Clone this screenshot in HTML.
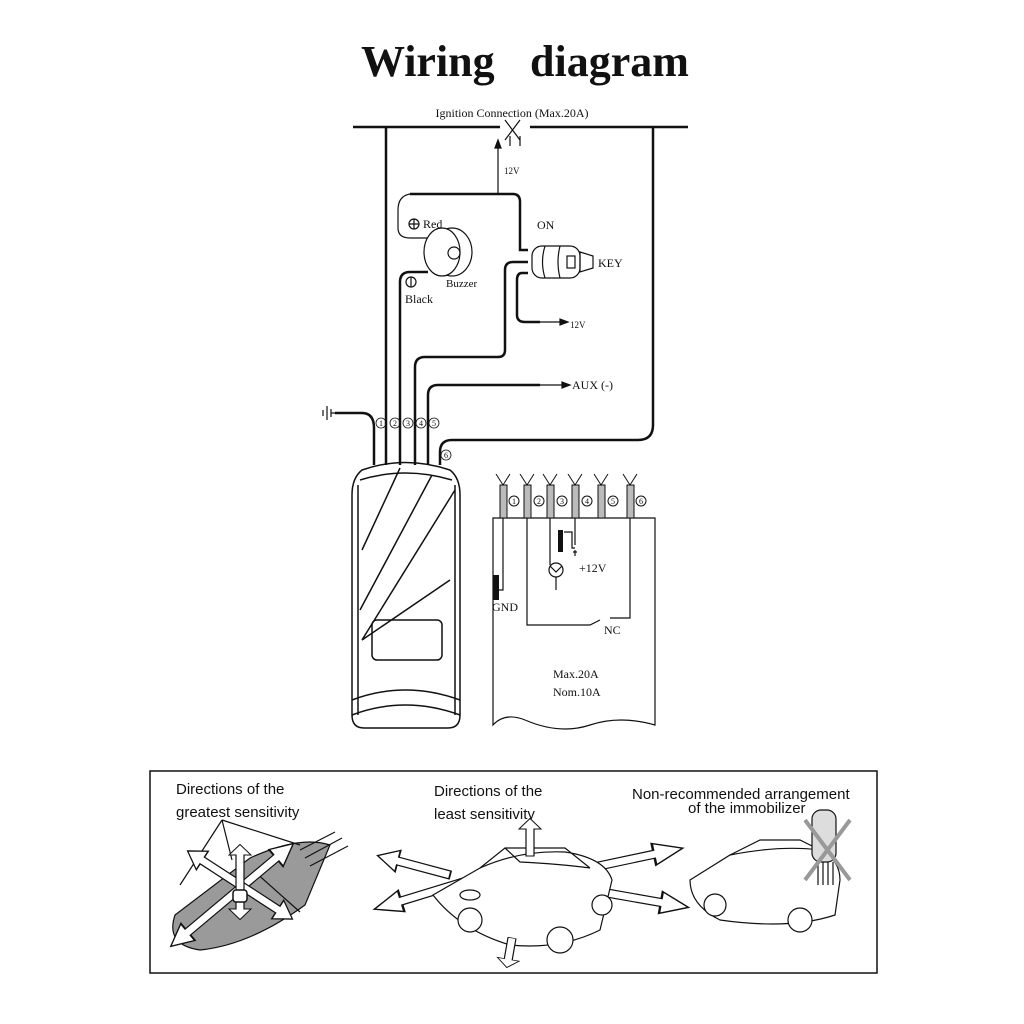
<!DOCTYPE html>
<html><head><meta charset="utf-8"><style>
html,body{margin:0;padding:0;background:#fff}
svg{display:block}
text{font-family:"Liberation Serif",serif;fill:#111}
.s{font-family:"Liberation Sans",sans-serif}
</style></head><body>
<svg width="1024" height="1024" viewBox="0 0 1024 1024" xmlns="http://www.w3.org/2000/svg">
<defs>
<polygon id="da" points="-50,0 -36,-11 -36,-4 36,-4 36,-11 50,0 36,11 36,4 -36,4 -36,11" fill="#fff" stroke="#111" stroke-width="1.2"/>
<polygon id="sa" points="0,-4 36,-4 36,-11 50,0 36,11 36,4 0,4" fill="#fff" stroke="#111" stroke-width="1.2"/>
</defs>
<text x="361" y="76" font-size="44" font-weight="bold">Wiring</text>
<text x="530" y="76" font-size="44" font-weight="bold">diagram</text>
<text x="512" y="117" font-size="12" text-anchor="middle">Ignition Connection (Max.20A)</text>
<g stroke="#111" fill="none" stroke-width="2.5">
<path d="M353 127H500M530 127H688"/>
<path d="M386 127V465"/>
<path d="M653 127V425Q653 440 638 440H452Q440 440 440 452V465"/>
<path d="M410 194H513Q520 194 520 202V250H528"/>
<path d="M415 465V367Q415 357 425 357H498Q505 357 505 350V270Q505 262 513 262H528"/>
<path d="M528 273H522Q517 273 517 280V315Q517 322 525 322H540"/>
<path d="M428 465V395Q428 385 438 385H540"/>
<path d="M335 413H362Q374 413 374 428V465"/>
<path d="M400 465V282Q400 272 410 272H428"/>
</g>
<g stroke="#111" stroke-width="1.2" fill="none">
<path d="M410 194Q398 196 398 210V228Q398 238 410 238H428"/>
<path d="M498 194V142"/><path d="M495 148L498 140L501 148Z" fill="#111"/>
<path d="M505 120L520 140M520 120L505 140"/>
<path d="M510 136V146M520 136V146"/>
<path d="M540 322H565"/><path d="M560 319L568 322L560 325Z" fill="#111"/>
<path d="M540 385H567"/><path d="M562 382L570 385L562 388Z" fill="#111"/>
<path d="M327 406V420M331 409V417M323 410V416M331 413H336"/>
<ellipse cx="452" cy="252" rx="20" ry="24"/><ellipse cx="442" cy="252" rx="18" ry="24" fill="#fff"/>
<circle cx="454" cy="253" r="6"/>
<rect x="532" y="246" width="48" height="32" rx="10"/>
<path d="M545 246Q540 262 545 278M560 246Q556 262 560 278"/>
<path d="M580 252L593 256V268L580 272Z"/><rect x="567" y="256" width="8" height="12"/>
<circle cx="414" cy="224" r="5"/><path d="M409 224H419M414 219V229"/>
<circle cx="411" cy="282" r="5"/><path d="M411 277V287"/>
</g>
<g font-size="12">
<text x="423" y="228">Red</text><text x="405" y="303">Black</text><text x="446" y="287" font-size="11">Buzzer</text>
<text x="537" y="229">ON</text><text x="598" y="267">KEY</text>
<text x="504" y="174" font-size="9">12V</text><text x="570" y="328" font-size="9">12V</text>
<text x="572" y="389">AUX (-)</text>
</g>
<g font-size="9" stroke="#111" stroke-width="0.8" fill="none">
<circle cx="381" cy="423" r="5"/><circle cx="395" cy="423" r="5"/><circle cx="408" cy="423" r="5"/><circle cx="421" cy="423" r="5"/><circle cx="434" cy="423" r="5"/><circle cx="446" cy="455" r="5"/>
</g>
<g font-size="8" text-anchor="middle">
<text x="381" y="426">1</text><text x="395" y="426">2</text><text x="408" y="426">3</text><text x="421" y="426">4</text><text x="434" y="426">5</text><text x="446" y="458">6</text>
</g>
<g stroke="#111" stroke-width="1.5" fill="none">
<path d="M362 470Q405 455 450 470Q460 478 460 495V715Q460 728 448 728H364Q352 728 352 715V495Q352 478 362 470Z"/>
<path d="M358 485V715M455 485V715"/>
<path d="M360 480Q405 466 452 480"/>
<path d="M400 468L362 550M432 475L360 610M455 490L362 640L450 580"/>
<rect x="372" y="620" width="70" height="40" rx="5"/>
<path d="M352 700Q405 680 460 700M352 715Q405 695 460 715"/>
</g>
<g stroke="#111" stroke-width="1.2" fill="none">
<path d="M493 518H655V725Q620 715 590 725Q560 735 525 720Q505 712 493 725Z"/>
<path d="M503 518V590H498M527 518V625H590L600 620M630 518V618H610M550 518V565M575 518V545"/>
<path d="M564 532H572V548H575"/>
<circle cx="556" cy="570" r="7"/><path d="M550 566L556 572L562 566M556 577V590"/>
<path d="M575 550V556M573 552H577"/>
</g>
<rect x="493" y="575" width="6" height="25" fill="#111"/>
<rect x="558" y="530" width="5" height="22" fill="#111"/>
<g stroke="#111" stroke-width="1" fill="#bbb">
<rect x="500" y="485" width="7" height="33"/><rect x="524" y="485" width="7" height="33"/><rect x="547" y="485" width="7" height="33"/><rect x="572" y="485" width="7" height="33"/><rect x="598" y="485" width="7" height="33"/><rect x="627" y="485" width="7" height="33"/>
</g>
<g stroke="#111" stroke-width="1" fill="none">
<path d="M496 474L503 485L510 474M520 474L527 485L534 474M543 474L550 485L557 474M568 474L575 485L582 474M594 474L601 485L608 474M623 474L630 485L637 474"/>
<circle cx="514" cy="501" r="5"/><circle cx="539" cy="501" r="5"/><circle cx="562" cy="501" r="5"/><circle cx="587" cy="501" r="5"/><circle cx="613" cy="501" r="5"/><circle cx="641" cy="501" r="5"/>
</g>
<g font-size="8" text-anchor="middle">
<text x="514" y="504">1</text><text x="539" y="504">2</text><text x="562" y="504">3</text><text x="587" y="504">4</text><text x="613" y="504">5</text><text x="641" y="504">6</text>
</g>
<g font-size="12">
<text x="492" y="611">GND</text><text x="579" y="572">+12V</text><text x="604" y="634">NC</text>
<text x="553" y="678">Max.20A</text><text x="553" y="696">Nom.10A</text>
</g>
<rect x="150" y="771" width="727" height="202" fill="none" stroke="#111" stroke-width="1.5"/>
<g class="s" font-size="15">
<text x="176" y="794" class="s">Directions of the</text><text x="176" y="817" class="s">greatest sensitivity</text>
<text x="434" y="796" class="s">Directions of the</text><text x="434" y="819" class="s">least sensitivity</text>
<text x="632" y="799" class="s">Non-recommended arrangement</text><text x="688" y="813" class="s">of the immobilizer</text>
</g>
<g stroke="#111" stroke-width="1.2" fill="none">
<path d="M175 915L250 858Q300 835 330 845L305 905Q250 945 200 950Q165 945 175 915Z" fill="#9a9a9a"/>
<path d="M300 850L335 832M305 858L342 838M310 866L348 846M290 850L255 872L300 912"/>
<path d="M222 820L180 885M222 820L232 860M222 820L300 845"/>
</g>
<use href="#da" transform="translate(232,895) rotate(-40) scale(1.6,1)"/>
<use href="#da" transform="translate(240,885) rotate(33) scale(1.25,1)"/>
<use href="#da" transform="translate(240,882) rotate(90) scale(0.75,1)"/>
<rect x="233" y="890" width="14" height="12" rx="3" fill="#fff" stroke="#111" stroke-width="1.5"/>
<use href="#sa" transform="translate(470,880) rotate(163) scale(2,1)"/>
<use href="#sa" transform="translate(450,875) rotate(195) scale(1.5,1)"/>
<use href="#sa" transform="translate(580,870) rotate(-12) scale(2.1,1)"/>
<use href="#sa" transform="translate(590,890) rotate(10) scale(2,1)"/>
<g stroke="#111" stroke-width="1.2" fill="#fff">
<path d="M433 895L480 868Q520 850 565 852Q605 858 612 880L600 930Q560 950 510 945Q460 930 433 895Z"/>
<path d="M480 868L505 848H565L590 868M505 848L520 862Q560 864 590 868" fill="none"/>
<circle cx="470" cy="920" r="12"/><circle cx="560" cy="940" r="13"/><circle cx="602" cy="905" r="10"/>
<ellipse cx="470" cy="895" rx="10" ry="5"/>
</g>
<use href="#sa" transform="translate(530,856) rotate(-90) scale(0.75,1)"/>
<use href="#sa" transform="translate(512,938) rotate(100) scale(0.6,1)"/>
<g stroke="#111" stroke-width="1.2" fill="#fff">
<path d="M690 880L730 855Q780 845 820 850Q840 860 840 880L835 915Q790 930 720 920Q690 905 690 880Z"/>
<path d="M730 855L760 840H800L820 850" fill="none"/>
<circle cx="715" cy="905" r="11"/><circle cx="800" cy="920" r="12"/>
<rect x="812" y="810" width="24" height="52" rx="9" fill="#ddd"/>
<path d="M818 862V885M823 862V885M828 862V885M833 862V885" fill="none"/>
</g>
<path d="M805 820L850 880M850 820L805 880" stroke="#999" stroke-width="4"/>
</svg>
</body></html>
